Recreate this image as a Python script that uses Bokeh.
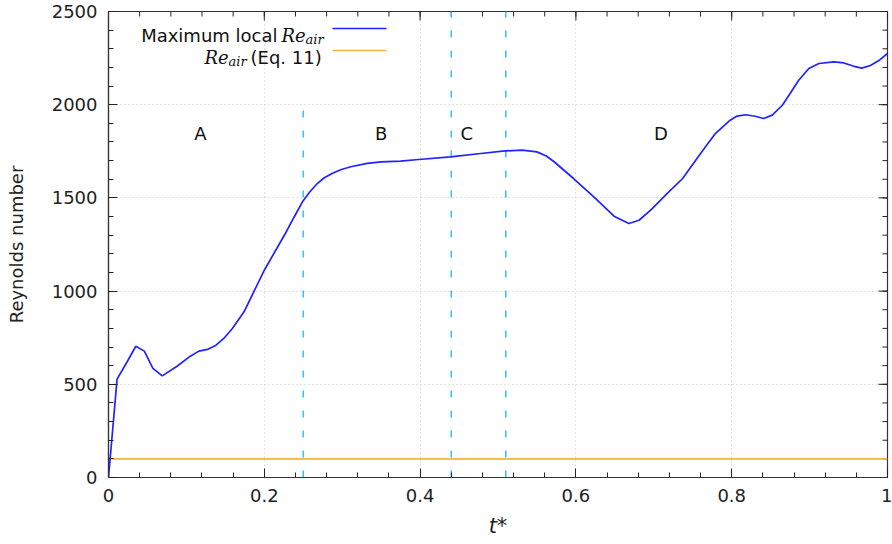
import math
from bokeh.plotting import figure
from bokeh.models import FixedTicker, Range1d, Label
from bokeh.embed import file_html
from bokeh.resources import INLINE

# ---- data ----
t_star = [0, 0.011, 0.024, 0.035, 0.046, 0.057, 0.069, 0.088, 0.105, 0.116,
          0.127, 0.138, 0.148, 0.159, 0.174, 0.2, 0.227, 0.238, 0.249, 0.258,
          0.268, 0.277, 0.287, 0.298, 0.311, 0.332, 0.350, 0.375, 0.398, 0.439,
          0.475, 0.509, 0.531, 0.550, 0.562, 0.572, 0.597, 0.623, 0.649, 0.668,
          0.681, 0.696, 0.717, 0.737, 0.760, 0.779, 0.798, 0.807, 0.818, 0.830,
          0.841, 0.852, 0.865, 0.875, 0.886, 0.899, 0.912, 0.931, 0.944, 0.957,
          0.967, 0.978, 0.990, 1.0]
re_max = [0, 528, 621, 704, 678, 585, 545, 597, 651, 678,
          687, 710, 746, 799, 889, 1112, 1309, 1395, 1479, 1530,
          1577, 1608, 1631, 1651, 1667, 1685, 1693, 1697, 1706, 1720,
          1737, 1752, 1756, 1747, 1725, 1694, 1604, 1506, 1402, 1363,
          1380, 1434, 1523, 1604, 1738, 1845, 1917, 1939, 1946, 1938,
          1926, 1944, 1997, 2060, 2131, 2194, 2221, 2230, 2224, 2206,
          2196, 2210, 2240, 2275]
re_eq_x = [0, 1]
re_eq_y = [100, 100]

phase_x = [0.25, 0.44, 0.51]
phase_top = [1975, 2500, 2500]
region_names = ["A", "B", "C", "D"]
region_x = [0.118, 0.350, 0.460, 0.709]
region_y = [1845, 1845, 1845, 1845]

x_ticks = [0, 0.2, 0.4, 0.6, 0.8, 1.0]
x_tick_labels = ["0", "0.2", "0.4", "0.6", "0.8", "1"]
x_minor = [i * 0.04 for i in range(26)]
y_ticks = [0, 500, 1000, 1500, 2000, 2500]
y_tick_labels = ["0", "500", "1000", "1500", "2000", "2500"]
y_minor = [i * 100 for i in range(26)]

# ---- figure ----
FONT = "DejaVu Sans"
INK = "#222222"
TOP, BOTTOM = 11, 67
p = figure(width=892, height=544, x_range=Range1d(0, 1), y_range=Range1d(0, 2500),
           output_backend="svg", toolbar_location=None,
           min_border_left=108, min_border_right=5, min_border_top=TOP,
           min_border_bottom=BOTTOM)
p.background_fill_color = "white"
p.outline_line_color = "#333333"
p.outline_line_width = 1.2

xt = FixedTicker(ticks=x_ticks, minor_ticks=x_minor)
yt = FixedTicker(ticks=y_ticks, minor_ticks=y_minor)

for ax in p.xaxis + p.yaxis:
    ax.axis_line_color = "#333333"
    ax.axis_line_width = 1.2
    ax.major_tick_in = 9
    ax.major_tick_out = 0
    ax.minor_tick_in = 5
    ax.minor_tick_out = 0
    ax.major_tick_line_color = INK
    ax.minor_tick_line_color = INK
    ax.major_label_text_font = FONT
    ax.major_label_text_font_size = "18px"
    ax.major_label_text_color = INK
    ax.axis_label_text_font = FONT
    ax.axis_label_text_color = INK

p.xaxis.ticker = xt
p.yaxis.ticker = yt
p.xaxis.major_label_overrides = {v: s for v, s in zip(x_ticks, x_tick_labels)}
p.yaxis.major_label_overrides = {v: s for v, s in zip(y_ticks, y_tick_labels)}
p.xaxis.major_label_standoff = 11
p.yaxis.major_label_standoff = 11
p.xaxis.axis_label = "t*"
p.xaxis.axis_label_text_font_style = "italic"
p.xaxis.axis_label_text_font_size = "21px"
p.xaxis.axis_label_standoff = 9
p.yaxis.axis_label = "Reynolds number"
p.yaxis.axis_label_text_font_style = "normal"
p.yaxis.axis_label_text_font_size = "18px"
p.yaxis.axis_label_standoff = 22

# mirror ticks on top and right borders (inward, screen-length rays)
p.ray(x=x_ticks, y=[2500] * len(x_ticks), length=9, length_units="screen",
      angle=-math.pi / 2, line_color=INK, line_width=1)
p.ray(x=x_minor, y=[2500] * len(x_minor), length=5, length_units="screen",
      angle=-math.pi / 2, line_color=INK, line_width=1)
p.ray(x=[1] * len(y_ticks), y=y_ticks, length=9, length_units="screen",
      angle=math.pi, line_color=INK, line_width=1)
p.ray(x=[1] * len(y_minor), y=y_minor, length=5, length_units="screen",
      angle=math.pi, line_color=INK, line_width=1)

# grid
p.xgrid.ticker = FixedTicker(ticks=x_ticks[1:-1])
p.ygrid.ticker = FixedTicker(ticks=y_ticks[1:-1])
for g in (p.xgrid[0], p.ygrid[0]):
    g.grid_line_color = "#c4c4c4"
    g.grid_line_dash = "1 3"
    g.grid_line_width = 1

# phase separators
p.segment(x0=phase_x, y0=[0] * len(phase_x), x1=phase_x, y1=phase_top,
          line_color="#3cc4f4", line_width=1.6, line_dash="7 13")

# series
p.line(re_eq_x, re_eq_y, line_color="#f2b43c", line_width=1.6)
p.line(t_star, re_max, line_color="#2222ff", line_width=1.7)

# region labels
p.text(x=region_x, y=region_y, text=region_names, text_font_size="18px",
       text_color="#111111", text_align="center", text_baseline="middle",
       text_font={"value": FONT})

# ---- legend (drawn by hand to allow the styled Re_air) ----
FRAME_BOTTOM = 544 - BOTTOM
FRAME_H = 544 - BOTTOM - TOP

def dx(px):
    return (px - 108) / 779.0

def dy(py):
    return (FRAME_BOTTOM - py) * 2500 / FRAME_H

def lab(px, py, txt, size, font=FONT, style="normal", align="left"):
    p.add_layout(Label(x=dx(px), y=dy(py), text=txt, text_font=font,
                       text_font_size=size, text_font_style=style,
                       text_align=align, text_baseline="alphabetic",
                       text_color="#111111"))

lab(277, 35, "Maximum local", "18px", align="right")
lab(281, 35, "Re", "18px", font="DejaVu Serif", style="italic")
lab(305, 39, "air", "13px", font="DejaVu Serif", style="italic")
p.line([dx(332), dx(386)], [dy(28), dy(28)], line_color="#2222ff", line_width=1.7)

lab(204, 57, "Re", "18px", font="DejaVu Serif", style="italic")
lab(228, 61, "air", "13px", font="DejaVu Serif", style="italic")
lab(250, 57, "(Eq. 11)", "18px")
p.line([dx(332), dx(386)], [dy(50), dy(50)], line_color="#f2b43c", line_width=1.6)

open("out.html", "w").write(file_html(p, INLINE))
